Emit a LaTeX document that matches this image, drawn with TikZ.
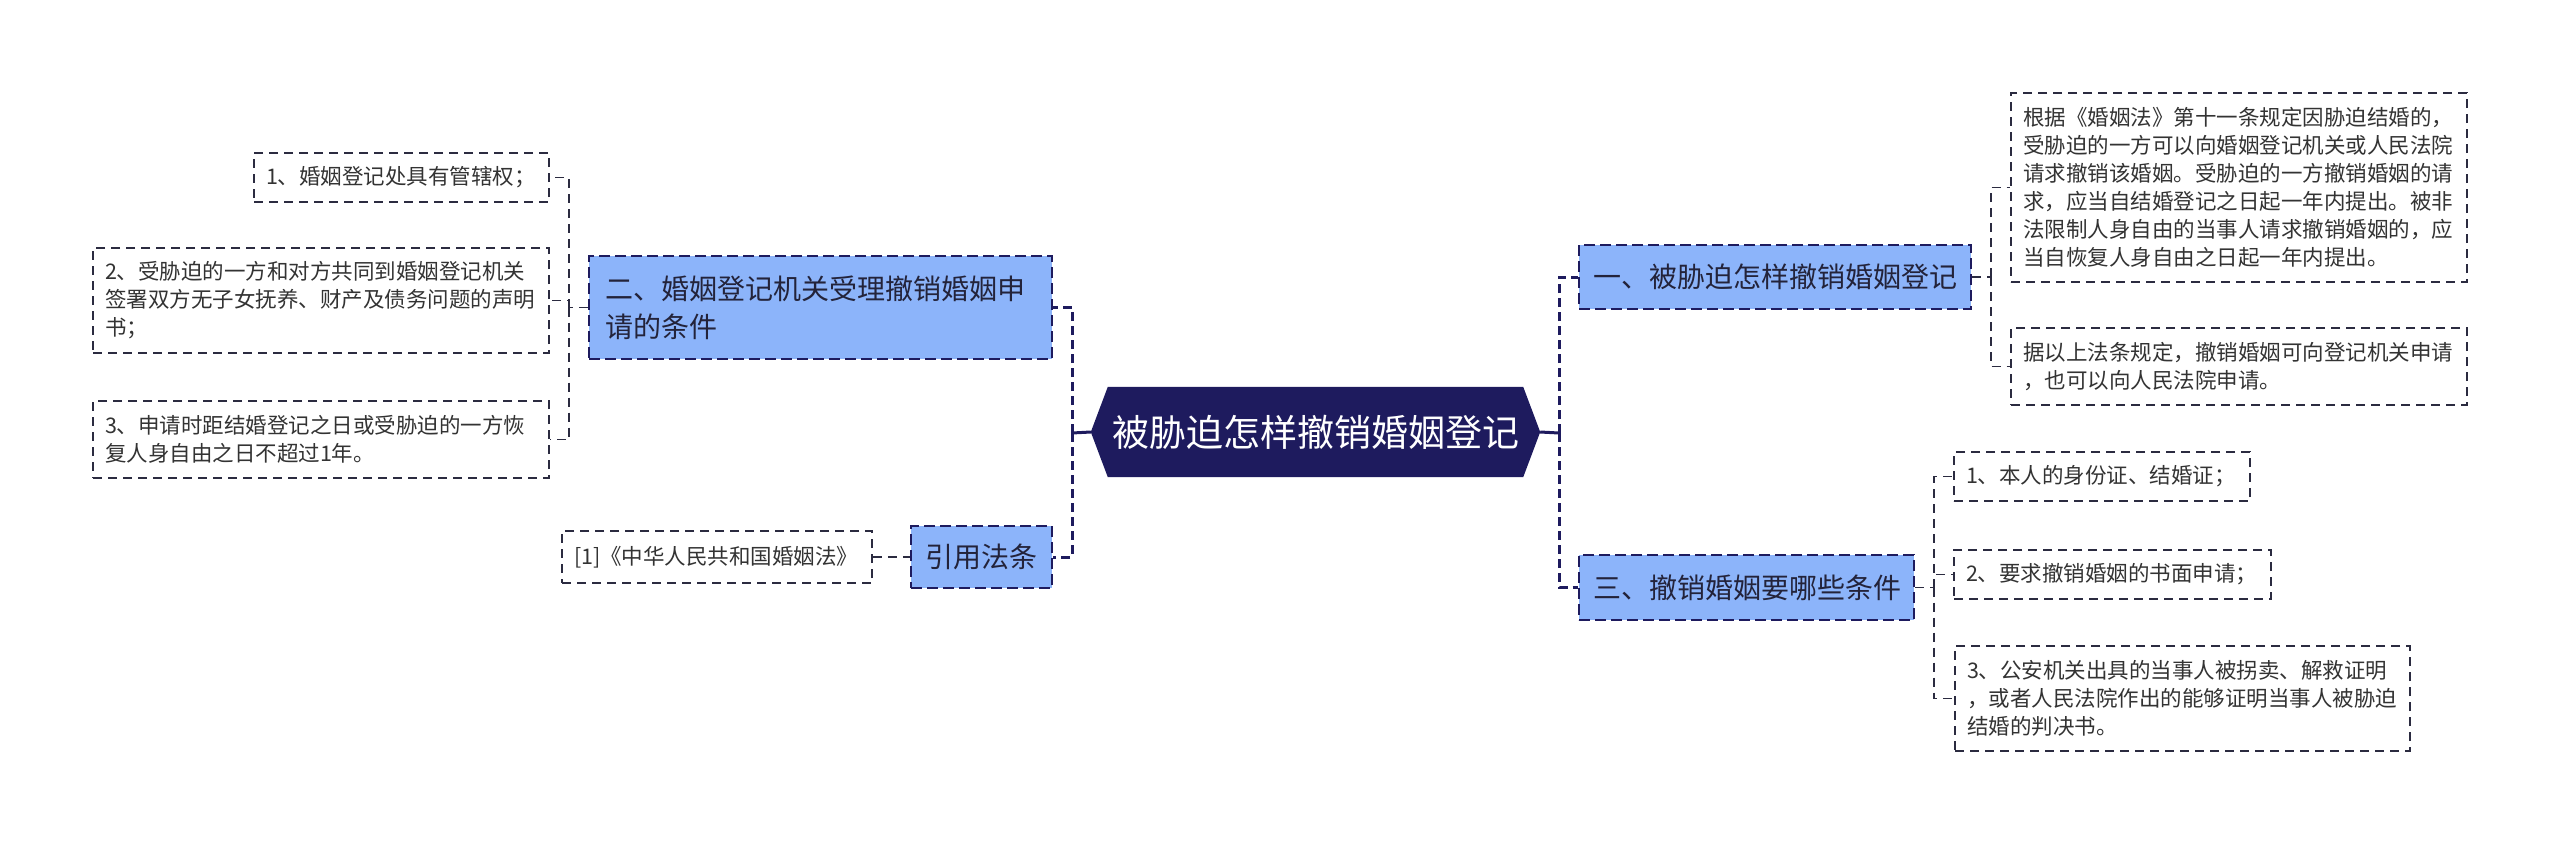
\documentclass[tikz,border=0pt]{standalone}
\usepackage{fontspec}
\setmainfont{Noto Sans CJK SC}
\definecolor{navy}{HTML}{1E1B5E}
\definecolor{lblue}{HTML}{8CB4FA}
\definecolor{leafline}{HTML}{2B2B40}
\definecolor{leaftext}{HTML}{333333}
\definecolor{topictext}{HTML}{23233A}
\begin{document}
\begin{tikzpicture}[x=1pt,y=-1pt,
  leaf/.style={draw=leafline, line width=1.8pt, dash pattern=on 9pt off 6pt, fill=white,
    text=leaftext, font=\fontsize{21.5}{28}\selectfont, inner xsep=12pt, inner ysep=0pt, align=left},
  topic/.style={draw=navy, fill=lblue, line width=2.5pt, dash pattern=on 11pt off 5pt,
    text=topictext, font=\fontsize{28}{38}\selectfont, inner xsep=14pt, inner ysep=0pt, align=left},
  link/.style={draw=navy, line width=3pt, dash pattern=on 9pt off 5pt},
  solidlink/.style={draw=navy, line width=3pt},
  sublink/.style={draw=leafline, line width=1.8pt, dash pattern=on 9pt off 6pt}
]
\useasboundingbox (0,0) rectangle (2560,844);

% central node
\node (root) at (1315.5,432) [minimum width=449pt, minimum height=90pt, inner sep=0pt] {};
\fill[navy] (root.west) -- ([xshift=17pt]root.north west) -- ([xshift=-17pt]root.north east)
  -- (root.east) -- ([xshift=-17pt]root.south east) -- ([xshift=17pt]root.south west) -- cycle;
\node (roottext) at (root.center) [text=white, font=\fontsize{37}{44}\selectfont, inner sep=0pt] {被胁迫怎样撤销婚姻登记};

% level-2 nodes
\node[topic, text width=364pt, minimum height=64pt] (b1) at (1775,277) {一、被胁迫怎样撤销婚姻登记};
\node[topic, text width=307pt, minimum height=65pt] (b3) at (1746.5,587.5) {三、撤销婚姻要哪些条件};
\node[topic, text width=431pt, inner xsep=16pt, minimum height=103pt] (b2) at (820.5,307.5) {二、婚姻登记机关受理撤销婚姻申\\请的条件};
\node[topic, text width=113pt, minimum height=62pt] (b4) at (981.5,557) {引用法条};

% left leaves
\node[leaf, text width=271pt, minimum height=49pt] (l1) at (401.5,177.5) {1、婚姻登记处具有管辖权；};
\node[leaf, text width=432pt, minimum height=105pt] (l2) at (321,300.5) {2、受胁迫的一方和对方共同到婚姻登记机关\\签署双方无子女抚养、财产及债务问题的声明\\书；};
\node[leaf, text width=432pt, minimum height=77pt] (l3) at (321,439.5) {3、申请时距结婚登记之日或受胁迫的一方恢\\复人身自由之日不超过1年。};
\node[leaf, text width=286pt, minimum height=52pt] (l4) at (717,557) {[1]《中华人民共和国婚姻法》};

% right leaves of b1
\node[leaf, text width=432pt, minimum height=189pt] (r1) at (2239,187.5) {根据《婚姻法》第十一条规定因胁迫结婚的，\\受胁迫的一方可以向婚姻登记机关或人民法院\\请求撤销该婚姻。受胁迫的一方撤销婚姻的请\\求，应当自结婚登记之日起一年内提出。被非\\法限制人身自由的当事人请求撤销婚姻的，应\\当自恢复人身自由之日起一年内提出。};
\node[leaf, text width=432pt, minimum height=77pt] (r2) at (2239,366.5) {据以上法条规定，撤销婚姻可向登记机关申请\\，也可以向人民法院申请。};

% right leaves of b3
\node[leaf, text width=272pt, minimum height=49pt] (s1) at (2102,476.5) {1、本人的身份证、结婚证；};
\node[leaf, text width=293pt, minimum height=49pt] (s2) at (2112.5,574.5) {2、要求撤销婚姻的书面申请；};
\node[leaf, text width=431pt, minimum height=105pt] (s3) at (2182.5,698.5) {3、公安机关出具的当事人被拐卖、解救证明\\，或者人民法院作出的能够证明当事人被胁迫\\结婚的判决书。};

% trunk coordinates
\coordinate (lt) at (1072,433);
\coordinate (rt) at (1559,433);
\coordinate (ls) at (569,307.5);
\coordinate (rs1) at (1991,277);
\coordinate (rs3) at (1934,587.5);

% main connectors
\draw[solidlink] (root.west) -- (lt);
\draw[solidlink] (root.east) -- (rt);
\draw[link] (lt) |- (b2.east);
\draw[link] (lt) |- (b4.east);
\draw[link] (rt) |- (b1.west);
\draw[link] (rt) |- (b3.west);

% sub connectors
\draw[sublink] (b2.west) -- (ls);
\draw[sublink] (ls) |- (l1.east);
\draw[sublink] (ls) |- (l2.east);
\draw[sublink] (ls) |- (l3.east);
\draw[sublink] (l4.east) -- (b4.west);

\draw[sublink] (b1.east) -- (rs1);
\draw[sublink] (rs1) |- (r1.west);
\draw[sublink] (rs1) |- (r2.west);

\draw[sublink] (b3.east) -- (rs3);
\draw[sublink] (rs3) |- (s1.west);
\draw[sublink] (rs3) |- (s2.west);
\draw[sublink] (rs3) |- (s3.west);
\end{tikzpicture}
\end{document}
